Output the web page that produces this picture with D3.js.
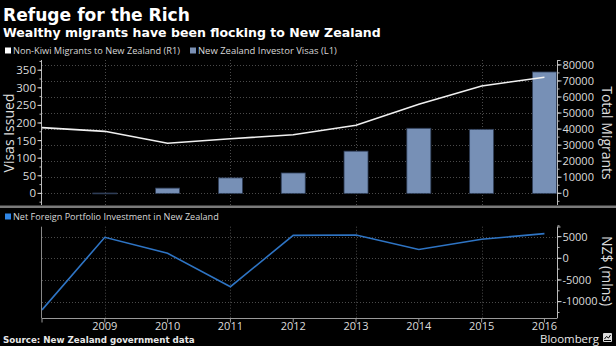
<!DOCTYPE html>
<html><head><meta charset="utf-8">
<script src="https://cdn.jsdelivr.net/npm/d3@7"></script>
<style>
html,body{margin:0;padding:0;background:#000;}
svg{display:block;}
text{fill:#dcdcdc;}
</style></head>
<body>
<script>
// ---- data ----
const years = [2008, 2009, 2010, 2011, 2012, 2013, 2014, 2015, 2016];
const migrants = [40900, 38600, 31150, 34000, 36500, 42400, 55500, 66900, 72300];
const visaYears = [2009, 2010, 2011, 2012, 2013, 2014, 2015, 2016];
const visas = [1, 15, 44, 58, 120, 185, 182, 345];
const investment = [-11900, 4850, 1150, -6550, 5300, 5400, 2050, 4400, 5700];
const yearLabels = ["2009", "2010", "2011", "2012", "2013", "2014", "2015", "2016"];
const visaTicks = [0, 50, 100, 150, 200, 250, 300, 350];
const migrantTicks = [0, 10000, 20000, 30000, 40000, 50000, 60000, 70000, 80000];
const invTicks = [-10000, -5000, 0, 5000];

const W = 616, H = 346;
const svg = d3.select("body").append("svg").attr("width", W).attr("height", H);
svg.append("rect").attr("width", W).attr("height", H).attr("fill", "#000");

const FONT = "'Open Sans', 'DejaVu Sans', sans-serif";
const TFONT = "'DejaVu Sans', sans-serif";

function fit(sel, target) {
  const n = sel.node();
  const w = n.getComputedTextLength();
  const fs = parseFloat(sel.attr("font-size"));
  sel.attr("font-size", (fs * target / w).toFixed(2));
  return sel;
}

// titles
fit(svg.append("text").attr("x", 3).attr("y", 21).attr("font-family", TFONT)
  .attr("font-weight", "bold").attr("font-size", 19).style("fill", "#fff")
  .text("Refuge for the Rich"), 187);
fit(svg.append("text").attr("x", 3).attr("y", 37).attr("font-family", TFONT)
  .attr("font-weight", "bold").attr("font-size", 14).style("fill", "#fff")
  .text("Wealthy migrants have been flocking to New Zealand"), 378);

// legends
svg.append("rect").attr("x", 5).attr("y", 47.5).attr("width", 6).attr("height", 6).attr("fill", "#fff");
fit(svg.append("text").attr("x", 13).attr("y", 54).attr("font-family", FONT)
  .attr("font-size", 10).style("fill", "#d8d8d8").text("Non-Kiwi Migrants to New Zealand (R1)"), 167);
svg.append("rect").attr("x", 190).attr("y", 47.5).attr("width", 6).attr("height", 6).attr("fill", "#7a90b4");
fit(svg.append("text").attr("x", 198).attr("y", 54).attr("font-family", FONT)
  .attr("font-size", 10).style("fill", "#d8d8d8").text("New Zealand Investor Visas (L1)"), 139);

svg.append("rect").attr("x", 5).attr("y", 213.5).attr("width", 6).attr("height", 6).attr("fill", "#2f86e6");
fit(svg.append("text").attr("x", 13).attr("y", 220).attr("font-family", FONT)
  .attr("font-size", 10).style("fill", "#d8d8d8").text("Net Foreign Portfolio Investment in New Zealand"), 206);

// scales
const x = d3.scaleLinear().domain([2008, 2016.2]).range([42, 557]);
const yL = d3.scaleLinear().domain([-33, 379]).range([205, 60]);
const yR = d3.scaleLinear().domain([-7300, 83050]).range([205, 60]);
const yB = d3.scaleLinear().domain([-13850, 7300]).range([318.3, 226.7]);

const gridYears = [2009, 2011, 2013, 2015];
const gridStyle = g => g.attr("stroke", "#4a4a4a").attr("stroke-width", 1).attr("stroke-dasharray", "1,2");

// top grid
const gt = svg.append("g");
gt.selectAll("line.h").data(migrantTicks).join("line")
  .attr("x1", 42).attr("x2", 557)
  .attr("y1", d => Math.round(yR(d)) + 0.5).attr("y2", d => Math.round(yR(d)) + 0.5).call(gridStyle);
gt.selectAll("line.v").data(gridYears).join("line")
  .attr("x1", d => Math.round(x(d)) + 0.5).attr("x2", d => Math.round(x(d)) + 0.5)
  .attr("y1", 60).attr("y2", 205).call(gridStyle);

// bars
const bw = 24;
svg.append("g").selectAll("rect").data(visaYears.map((y, i) => ({y, v: visas[i]}))).join("rect")
  .attr("x", d => x(d.y) - bw / 2)
  .attr("width", d => Math.min(bw, 557 - (x(d.y) - bw / 2)))
  .attr("y", d => yL(d.v))
  .attr("height", d => Math.max(0.8, yL(0) - yL(d.v)))
  .attr("fill", "#7790b6").attr("stroke", "#2e3d57").attr("stroke-width", 0.8);

// migrants line
svg.append("path").datum(years.map((y, i) => [y, migrants[i]]))
  .attr("fill", "none").attr("stroke", "#f0f0f0").attr("stroke-width", 1.6)
  .attr("d", d3.line().x(d => x(d[0])).y(d => yR(d[1])));

// left axis (visas)
const la = svg.append("g").attr("transform", "translate(41.5,0)");
la.append("line").attr("y1", 60).attr("y2", 205).attr("stroke", "#bbb");
la.selectAll("line.mn").data(d3.range(-25, 376, 25)).join("line")
  .attr("x1", -2).attr("x2", 0).attr("y1", d => yL(d)).attr("y2", d => yL(d)).attr("stroke", "#bbb");
la.selectAll("line.mj").data(visaTicks).join("line")
  .attr("x1", -4).attr("x2", 0).attr("y1", d => yL(d)).attr("y2", d => yL(d)).attr("stroke", "#ddd");
la.selectAll("text").data(visaTicks).join("text")
  .attr("x", -5.5).attr("y", d => yL(d)).attr("dy", "0.35em").attr("text-anchor", "end")
  .attr("font-family", FONT).attr("font-size", 11.5).text(d => d);

// right axis (migrants)
const ra = svg.append("g").attr("transform", "translate(557.5,0)");
ra.append("line").attr("y1", 60).attr("y2", 205).attr("stroke", "#bbb");
ra.append("line").attr("x1", 0).attr("x2", 3).attr("y1", 60.5).attr("y2", 60.5).attr("stroke", "#bbb");
ra.selectAll("line.mn").data(d3.range(-5000, 80001, 5000)).join("line")
  .attr("x1", 0).attr("x2", 2).attr("y1", d => yR(d)).attr("y2", d => yR(d)).attr("stroke", "#bbb");
ra.selectAll("line.mj").data(migrantTicks).join("line")
  .attr("x1", 0).attr("x2", 4).attr("y1", d => yR(d)).attr("y2", d => yR(d)).attr("stroke", "#ddd");
ra.selectAll("text").data(migrantTicks).join("text")
  .attr("x", 5).attr("y", d => yR(d)).attr("dy", "0.35em")
  .attr("font-family", FONT).attr("font-size", 11).text(d => d);

// axis titles
svg.append("text").attr("transform", "translate(14,133) rotate(-90)").attr("text-anchor", "middle")
  .attr("font-family", FONT).attr("font-size", 14).text("Visas Issued");
svg.append("text").attr("transform", "translate(602,133) rotate(90)").attr("text-anchor", "middle")
  .attr("font-family", FONT).attr("font-size", 14).text("Total Migrants");
svg.append("text").attr("transform", "translate(602,271) rotate(90)").attr("text-anchor", "middle")
  .attr("font-family", FONT).attr("font-size", 14).text("NZ$ (mlns)");

// separator
svg.append("rect").attr("x", 0).attr("y", 205.5).attr("width", W).attr("height", 2.5).attr("fill", "#7a7a7a");

// bottom grid
const gb = svg.append("g");
gb.selectAll("line.h").data(invTicks).join("line")
  .attr("x1", 42).attr("x2", 557)
  .attr("y1", d => Math.round(yB(d)) + 0.5).attr("y2", d => Math.round(yB(d)) + 0.5).call(gridStyle);
gb.selectAll("line.v").data(gridYears).join("line")
  .attr("x1", d => Math.round(x(d)) + 0.5).attr("x2", d => Math.round(x(d)) + 0.5)
  .attr("y1", 226.7).attr("y2", 318).call(gridStyle);

// investment line
svg.append("path").datum(years.map((y, i) => [y, investment[i]]))
  .attr("fill", "none").attr("stroke", "#2e74c4").attr("stroke-width", 1.6)
  .attr("d", d3.line().x(d => x(d[0])).y(d => yB(d[1])));

// bottom left axis line
svg.append("line").attr("x1", 41.5).attr("x2", 41.5).attr("y1", 226.7).attr("y2", 318.5).attr("stroke", "#888");

// bottom right axis
const rb = svg.append("g").attr("transform", "translate(557.5,0)");
rb.append("line").attr("y1", 226.7).attr("y2", 318.3).attr("stroke", "#bbb");
rb.append("line").attr("x1", 0).attr("x2", 3).attr("y1", 227).attr("y2", 227).attr("stroke", "#bbb");
rb.selectAll("line.mn").data(d3.range(-12500, 7501, 2500)).join("line")
  .attr("x1", 0).attr("x2", 2).attr("y1", d => yB(d)).attr("y2", d => yB(d)).attr("stroke", "#bbb");
rb.selectAll("line.mj").data(invTicks).join("line")
  .attr("x1", 0).attr("x2", 4).attr("y1", d => yB(d)).attr("y2", d => yB(d)).attr("stroke", "#ddd");
rb.selectAll("text").data(invTicks).join("text")
  .attr("x", 5).attr("y", d => yB(d)).attr("dy", "0.35em")
  .attr("font-family", FONT).attr("font-size", 11).text(d => d);

// bottom x axis
const xa = svg.append("g").attr("transform", "translate(0,318.5)");
xa.append("line").attr("x1", 42).attr("x2", 557).attr("stroke", "#999");
xa.selectAll("line.t").data(years).join("line")
  .attr("x1", d => x(d)).attr("x2", d => x(d)).attr("y1", 0).attr("y2", 4).attr("stroke", "#999");
xa.selectAll("text").data(yearLabels).join("text")
  .attr("x", d => x(+d)).attr("y", 11.5).attr("text-anchor", "middle")
  .attr("font-family", FONT).attr("font-size", 11).text(d => d);

// source
fit(svg.append("text").attr("x", 3).attr("y", 343).attr("font-family", TFONT)
  .attr("font-weight", "bold").attr("font-size", 10).style("fill", "#e8e8e8")
  .text("Source: New Zealand government data"), 192);
fit(svg.append("text").attr("x", 540).attr("y", 343).attr("font-family", FONT)
  .attr("font-size", 12).style("fill", "#e8e8e8").text("Bloomberg"), 59);
// logo
svg.append("rect").attr("x", 603).attr("y", 333).attr("width", 9).attr("height", 9).attr("rx", 1).attr("fill", "#ddd");
svg.append("path").attr("d", "M604.5,339 L606.5,336.5 L608.5,338 L610.5,335 M604,340.5 H611")
  .attr("stroke", "#000").attr("stroke-width", 1).attr("fill", "none");
</script>
</body></html>
